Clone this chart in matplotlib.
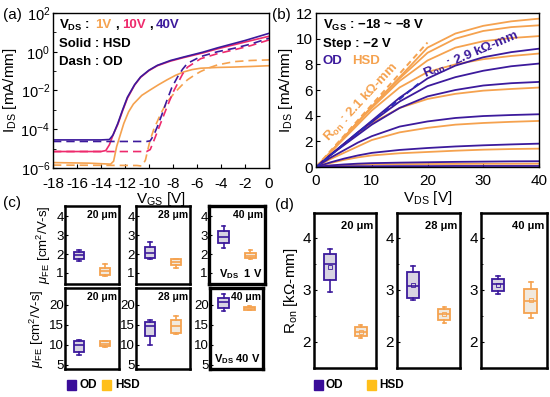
import numpy as np
import matplotlib.pyplot as plt
from matplotlib.patches import Rectangle
from matplotlib.ticker import FixedLocator, NullFormatter, MultipleLocator

plt.rcParams.update({
    "font.family": ["Liberation Sans", "DejaVu Sans"],
    "mathtext.fontset": "custom",
    "mathtext.rm": "Liberation Sans",
    "mathtext.it": "Liberation Sans:italic",
    "mathtext.bf": "Liberation Sans:bold",
    "axes.unicode_minus": False,
    "axes.linewidth": 1.0,
})

PURPLE = "#3c1a9c"
PINK = "#ee2a6c"
ORANGE = "#f5a24f"
BLUE = "#2a2ab8"
OD_FACE = "#d8d4e2"
HSD_FACE = "#f1e9de"
LEG_OD = "#3a0d99"
LEG_HSD = "#ffbf1a"

# ---- (a) transfer curves, log10(I_DS [mA/mm]) vs V_GS ----
hsd40_v = [-18, -14, -13.3, -13.0, -12.6, -12.2, -11.8, -11.2, -10.7, -10.0, -9.3, -8.2, -7.1, -5.5, -4.3, -2.0, 0]
hsd40_log = [-4.55, -4.55, -4.53, -4.3, -3.7, -3.0, -2.35, -1.7, -1.3, -0.95, -0.7, -0.45, -0.27, -0.02, 0.2, 0.58, 0.95]
hsd10_v = [-18, -14, -13.6, -13.3, -13.0, -12.6, -12.2, -11.8, -11.2, -10.7, -10.0, -9.3, -8.2, -7.1, -5.5, -4.3, -2.0, 0]
hsd10_log = [-5.15, -5.15, -5.1, -4.8, -4.3, -3.75, -3.05, -2.4, -1.72, -1.32, -0.97, -0.72, -0.48, -0.3, -0.06, 0.15, 0.5, 0.8]
hsd1_v = [-18, -15, -13.2, -12.95, -12.7, -12.4, -12.1, -11.7, -11.3, -10.6, -9.9, -9.2, -8.5, -7.8, -7.1, -6.4, -5.7, -4.3, -2.9, -1.5, 0]
hsd1_log = [-5.72, -5.75, -5.8, -5.65, -4.9, -4.3, -3.7, -3.1, -2.7, -2.25, -1.97, -1.7, -1.45, -1.22, -1.04, -0.92, -0.85, -0.81, -0.79, -0.76, -0.72]
od40_v = [-18, -10.2, -9.9, -9.6, -9.3, -8.9, -8.5, -8.1, -7.6, -7.2, -6.8, -5.7, -4.3, -2.9, -1.5, 0]
od40_log = [-4.63, -4.63, -4.6, -4.3, -3.86, -3.2, -2.5, -1.85, -1.28, -0.9, -0.6, -0.25, 0.0, 0.18, 0.4, 0.7]
od10_v = [-18, -10.2, -9.9, -9.6, -9.1, -8.5, -8.0, -7.6, -7.2, -6.8, -5.7, -4.3, -2.9, -1.5, 0]
od10_log = [-5.15, -5.15, -5.05, -4.6, -3.8, -2.85, -2.1, -1.62, -1.15, -0.8, -0.36, -0.1, 0.1, 0.32, 0.61]
od1_v = [-18, -11.0, -10.6, -10.3, -10.0, -9.9, -9.6, -9.0, -8.5, -7.9, -7.3, -6.8, -6.2, -5.7, -5.0, -4.3, -2.9, -1.5, 0]
od1_log = [-5.85, -5.87, -5.9, -5.6, -4.8, -4.55, -4.0, -3.17, -2.6, -2.14, -1.75, -1.45, -1.2, -1.02, -0.83, -0.68, -0.51, -0.45, -0.42]

# ---- (b) output curves, I_DS [mA/mm] vs V_DS ----
vds = [0, 2.5, 5, 7.5, 10, 15, 20, 25, 30, 35, 40]
hsd_out = [
    [0, 1.1, 2.3, 3.5, 4.7, 7.0, 9.3, 10.4, 11.0, 11.35, 11.56],
    [0, 1.1, 2.3, 3.5, 4.7, 6.9, 8.9, 10.0, 10.6, 10.9, 11.04],
    [0, 1.1, 2.3, 3.5, 4.6, 6.7, 8.3, 9.3, 9.8, 10.05, 10.2],
    [0, 1.1, 2.2, 3.3, 4.4, 6.2, 7.4, 8.0, 8.4, 8.65, 8.84],
    [0, 0.9, 1.8, 2.6, 3.4, 4.6, 5.3, 5.7, 5.95, 6.08, 6.19],
    [0, 0.6, 1.1, 1.6, 2.1, 2.7, 3.05, 3.3, 3.43, 3.52, 3.59],
    [0, 0.3, 0.55, 0.75, 0.9, 1.07, 1.17, 1.27, 1.35, 1.4, 1.43],
    [0, 0.1, 0.15, 0.18, 0.2, 0.22, 0.23, 0.24, 0.25, 0.25, 0.26],
]
od_out = [
    [0, 0.9, 1.8, 2.7, 3.6, 5.4, 6.9, 7.9, 8.55, 8.95, 9.22],
    [0, 0.9, 1.8, 2.7, 3.5, 5.1, 6.3, 7.0, 7.5, 7.85, 8.06],
    [0, 0.9, 1.7, 2.5, 3.3, 4.6, 5.5, 6.0, 6.35, 6.53, 6.63],
    [0, 0.7, 1.3, 1.9, 2.4, 3.15, 3.55, 3.82, 3.97, 4.05, 4.11],
    [0, 0.35, 0.65, 0.9, 1.1, 1.33, 1.48, 1.6, 1.69, 1.76, 1.82],
    [0, 0.12, 0.2, 0.26, 0.3, 0.34, 0.37, 0.4, 0.42, 0.44, 0.45],
    [0, 0.03, 0.05, 0.06, 0.06, 0.07, 0.07, 0.08, 0.08, 0.08, 0.08],
]
hsd_fit_v, hsd_fit_i = [0, 20], [0, 9.7]
od_fit_v, od_fit_i = [0, 18.7], [0, 6.6]

# ---- (c),(d) box stats: (whislo, q1, med, q3, whishi) for 20, 28, 40 um ----
widths_lbl = ["20 μm", "28 μm", "40 μm"]
mu1_od = [[1.65, 1.74, 1.93, 2.09, 2.19], [1.75, 1.77, 2.03, 2.38, 2.62], [2.33, 2.56, 2.91, 3.21, 3.47]]
mu1_hsd = [[0.86, 0.92, 1.1, 1.28, 1.5], [1.25, 1.42, 1.6, 1.72, 1.75], [1.72, 1.77, 1.9, 2.04, 2.21]]
mu40_od = [[7.6, 8.25, 10.0, 11.0, 11.3], [10.0, 12.2, 14.6, 15.7, 16.25], [18.4, 19.25, 20.6, 21.75, 22.6]]
mu40_hsd = [[9.6, 9.75, 10.3, 10.9, 11.1], [12.8, 12.9, 14.6, 16.1, 17.1], [18.7, 18.8, 19.1, 19.5, 19.6]]
ron_od = [[2.97, 3.19, 3.5, 3.69, 3.79], [2.8, 2.85, 3.08, 3.35, 3.47], [2.92, 2.99, 3.11, 3.21, 3.26]]
ron_hsd = [[2.08, 2.12, 2.19, 2.28, 2.32], [2.36, 2.42, 2.53, 2.63, 2.68], [2.46, 2.56, 2.79, 3.02, 3.15]]
ron_od_mean = [3.44, 3.1, 3.1]
ron_hsd_mean = [2.2, 2.53, 2.8]

W, H = 550, 397
fig = plt.figure(figsize=(5.5, 3.97), dpi=100)


def rect(x0, x1, y0, y1):
    return [x0 / W, 1 - y1 / H, (x1 - x0) / W, (y1 - y0) / H]


# ================= (a) =================
ax = fig.add_axes(rect(53, 269, 13, 168))
lw = 1.2
ax.plot(hsd1_v, 10 ** np.array(hsd1_log), color=ORANGE, lw=lw)
ax.plot(od1_v, 10 ** np.array(od1_log), color=ORANGE, lw=lw, ls=(0, (5, 3)))
ax.plot(od10_v, 10 ** np.array(od10_log), color=PINK, lw=lw, ls=(0, (5, 3)))
ax.plot(hsd10_v, 10 ** np.array(hsd10_log), color=PINK, lw=lw)
ax.plot(od40_v, 10 ** np.array(od40_log), color=PURPLE, lw=lw, ls=(0, (5, 3)))
ax.plot(hsd40_v, 10 ** np.array(hsd40_log), color=PURPLE, lw=lw)
ax.set_yscale("log")
ax.set_xlim(-18, 0)
ax.set_ylim(1e-6, 1e2)
ax.set_xticks(range(-18, 1, 2))
ax.yaxis.set_major_locator(FixedLocator([1e-6, 1e-4, 1e-2, 1, 1e2]))
ax.yaxis.set_minor_locator(FixedLocator([1e-5, 1e-3, 1e-1, 1e1]))
ax.yaxis.set_minor_formatter(NullFormatter())
ax.tick_params(direction="in", labelsize=11, length=3, pad=2)
ax.tick_params(axis="x", pad=6.5)
ax.tick_params(axis="y", labelsize=10.5)
ax.tick_params(which="minor", direction="in", length=2)
ax.set_xlabel(r"V$_{\rm GS}$ [V]", fontsize=11, labelpad=-0.5)
ax.set_ylabel(r"I$_{\rm DS}$ [mA/mm]", fontsize=11, labelpad=1)
kw = dict(transform=ax.transAxes, fontsize=9.5, fontweight="bold", va="center")
ax.text(0.03, 0.92, r"$\mathbf{V_{DS}}$ :", **kw)
ax.text(0.195, 0.92, "1V", color=ORANGE, **kw)
ax.text(0.29, 0.92, ",", **kw)
ax.text(0.32, 0.92, "10V", color=PINK, **kw)
ax.text(0.445, 0.92, ",", **kw)
ax.text(0.475, 0.92, "40V", color=PURPLE, **kw)
ax.text(0.03, 0.80, "Solid : HSD", **kw)
ax.text(0.03, 0.685, "Dash : OD", **kw)
fig.text(3 / W, 1 - 15 / H, "(a)", fontsize=11, va="center")

# ================= (b) =================
bx = fig.add_axes(rect(316, 539, 13, 167))
for curve in hsd_out:
    bx.plot(vds, curve, color=ORANGE, lw=1.3)
for curve in od_out:
    bx.plot(vds, curve, color=PURPLE, lw=1.3)
bx.plot(hsd_fit_v, hsd_fit_i, color=ORANGE, lw=1.4, ls=(0, (3, 2)))
bx.plot(od_fit_v, od_fit_i, color=BLUE, lw=1.4, ls=(0, (3, 2)))
bx.set_xlim(0, 40)
bx.set_ylim(0, 12)
bx.set_xticks([0, 10, 20, 30, 40])
bx.set_yticks(range(0, 13, 2))
bx.tick_params(direction="in", labelsize=11, length=3, pad=2)
bx.tick_params(axis="x", pad=5)
bx.set_xlabel(r"V$_{\rm DS}$ [V]", fontsize=11, labelpad=0.5)
bx.set_ylabel(r"I$_{\rm DS}$ [mA/mm]", fontsize=11, labelpad=1)
kw = dict(transform=bx.transAxes, fontsize=9.5, fontweight="bold", va="center")
bx.text(0.03, 0.92, r"$\mathbf{V_{GS}}$ : −18 ~ −8 V", **kw)
bx.text(0.03, 0.80, "Step : −2 V", **kw)
bx.text(0.03, 0.69, "OD", color=PURPLE, **kw)
bx.text(0.16, 0.69, "HSD", color=ORANGE, **kw)
bx.text(8.1, 5.0, r"$\mathbf{R_{on}}$ : 2.1 kΩ-mm", color=ORANGE, fontsize=9.5,
        fontweight="bold", rotation=47, ha="center", va="center", rotation_mode="anchor")
bx.text(27.8, 8.7, r"$\mathbf{R_{on}}$ : 2.9 kΩ-mm", color=PURPLE, fontsize=9.5,
        fontweight="bold", rotation=23, ha="center", va="center", rotation_mode="anchor")
fig.text(272 / W, 1 - 15 / H, "(b)", fontsize=11, va="center")


# ================= (c),(d) boxes =================
def draw_box(axx, pos, st, color, face, width, mean=None):
    s = dict(whislo=st[0], q1=st[1], med=st[2], q3=st[3], whishi=st[4], fliers=[])
    if mean is not None:
        s["mean"] = mean
    axx.bxp([s], positions=[pos], widths=width, patch_artist=True,
            showmeans=mean is not None, showfliers=False, capwidths=width * 0.3,
            boxprops=dict(facecolor=face, edgecolor=color, lw=1.3),
            whiskerprops=dict(color=color, lw=1.2),
            capprops=dict(color=color, lw=1.2),
            medianprops=dict(color=color, lw=1.2),
            meanprops=dict(marker="s", ms=2.5, mfc="none", mec=color, mew=0.6))


c_top_x = [(65, 119), (136, 190), (209, 265)]
c_bot_x = [(65, 119), (136, 190), (210, 263)]
for row, (xs, yr, od, hsd, ylim, ticks) in enumerate([
        (c_top_x, (206, 284), mu1_od, mu1_hsd, (0.42, 4.53), [1, 2, 3, 4]),
        (c_bot_x, (288, 369), mu40_od, mu40_hsd, (4.0, 24.2), [5, 10, 15, 20])]):
    for k in range(3):
        cx = fig.add_axes(rect(xs[k][0], xs[k][1], yr[0], yr[1]))
        draw_box(cx, 1, od[k], PURPLE, OD_FACE, 0.42)
        draw_box(cx, 2, hsd[k], ORANGE, HSD_FACE, 0.42)
        cx.set_xlim(0.46, 2.54)
        cx.set_ylim(*ylim)
        cx.set_yticks(ticks)
        cx.set_xticks([])
        cx.tick_params(direction="in", labelsize=9.5, length=2, pad=1)
        for sp in cx.spines.values():
            sp.set_linewidth(2.4 if k == 2 else 1.8)
        cx.text(0.97, 0.95, widths_lbl[k], transform=cx.transAxes, ha="right", va="top",
                fontsize=7.5, fontweight="bold")
        if k == 0:
            cx.set_ylabel(r"$\mu_{\rm FE}$ [cm$^2$/V-s]", fontsize=9.5, labelpad=2)
        if k == 2:
            lbl = r"$\mathbf{V_{DS}}$  1 V" if row == 0 else r"$\mathbf{V_{DS}}$ 40 V"
            cx.text(0.95, 0.04, lbl, transform=cx.transAxes, ha="right", va="bottom",
                    fontsize=8, fontweight="bold")
fig.text(3 / W, 1 - 203 / H, "(c)", fontsize=11, va="center")

d_x = [(314, 376), (397, 460), (481, 547)]
for k in range(3):
    dx = fig.add_axes(rect(d_x[k][0], d_x[k][1], 213, 368))
    draw_box(dx, 1, ron_od[k], PURPLE, OD_FACE, 0.39, ron_od_mean[k])
    draw_box(dx, 2, ron_hsd[k], ORANGE, HSD_FACE, 0.39, ron_hsd_mean[k])
    dx.set_xlim(0.48, 2.5)
    dx.set_ylim(1.5, 4.48)
    dx.set_yticks([2, 3, 4])
    dx.yaxis.set_minor_locator(MultipleLocator(0.5))
    dx.set_xticks([])
    dx.tick_params(direction="in", labelsize=11, length=2.5, pad=2)
    dx.tick_params(which="minor", direction="in", length=1.5)
    for sp in dx.spines.values():
        sp.set_linewidth(1.8)
    dx.text(0.96, 0.95, widths_lbl[k], transform=dx.transAxes, ha="right", va="top",
            fontsize=8, fontweight="bold")
    if k == 0:
        dx.set_ylabel(r"R$_{\rm on}$ [kΩ-mm]", fontsize=11, labelpad=2)
fig.text(275 / W, 1 - 205 / H, "(d)", fontsize=11, va="center")

# ---- bottom legends ----
for (sx, tx, lab, col) in [(67, 80, "OD", LEG_OD), (102, 115, "HSD", LEG_HSD),
                           (314, 326, "OD", LEG_OD), (367, 379, "HSD", LEG_HSD)]:
    fig.add_artist(Rectangle((sx / W, 1 - 390 / H), 9 / W, 10 / H, color=col,
                             transform=fig.transFigure))
    fig.text(tx / W, 1 - 385.5 / H, lab, fontsize=8.5, fontweight="bold", va="center")

fig.savefig("out.png", dpi=100)
